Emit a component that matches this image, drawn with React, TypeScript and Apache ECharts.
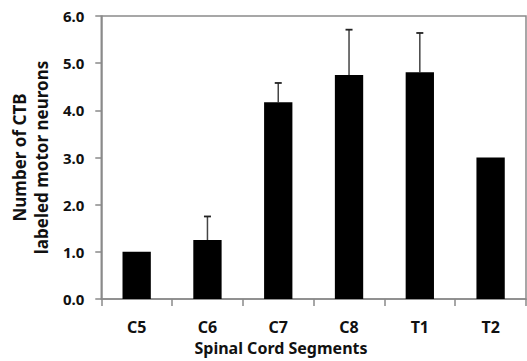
import React, { useEffect, useRef } from "react";
import * as echarts from "echarts";

const categories = ["C5", "C6", "C7", "C8", "T1", "T2"];
const means = [1.0, 1.25, 4.17, 4.75, 4.81, 3.0];
const errors = [0, 0.5, 0.41, 0.96, 0.83, 0];
const yTicks = [0, 1, 2, 3, 4, 5, 6];
const yTitle = "Number of CTB\nlabeled motor neurons";
const xTitle = "Spinal Cord Segments";

const FONT = "'Noto Sans', sans-serif";

export default function App() {
  const ref = useRef<HTMLDivElement>(null);
  useEffect(() => {
    if (!ref.current) return;
    const chart = echarts.init(ref.current, null, { renderer: "svg" });
    chart.setOption({
      animation: false,
      backgroundColor: "#ffffff",
      grid: {
        left: 99,
        right: 1,
        top: 16,
        bottom: 62,
        show: true,
        borderColor: "#8a8a8a",
        borderWidth: 1.5,
      },
      xAxis: {
        type: "category",
        data: categories,
        axisLine: { lineStyle: { color: "#8a8a8a", width: 1.5 } },
        axisTick: { show: true, length: 7, lineStyle: { color: "#8a8a8a", width: 1.5 } },
        axisLabel: {
          margin: 20,
          color: "#111",
          fontFamily: FONT,
          fontWeight: "bold",
          fontSize: 16,
        },
      },
      yAxis: {
        type: "value",
        min: yTicks[0],
        max: yTicks[yTicks.length - 1],
        interval: 1,
        name: yTitle,
        nameLocation: "middle",
        nameRotate: 90,
        nameGap: 49,
        nameTextStyle: {
          color: "#111",
          fontFamily: FONT,
          fontWeight: "bold",
          fontSize: 17,
          lineHeight: 22,
        },
        axisLine: { show: true, lineStyle: { color: "#8a8a8a", width: 1.5 } },
        axisTick: { show: true, length: 6, lineStyle: { color: "#8a8a8a", width: 1.5 } },
        splitLine: { show: false },
        axisLabel: {
          margin: 17,
          color: "#111",
          fontFamily: FONT,
          fontWeight: "bold",
          fontSize: 15,
          formatter: (v: number) => v.toFixed(1),
        },
      },
      graphic: [
        {
          type: "text",
          x: 281,
          y: 348,
          style: {
            text: xTitle,
            textAlign: "center",
            textVerticalAlign: "middle",
            fill: "#111",
            font: `bold 16px ${FONT}`,
          },
        },
      ],
      series: [
        {
          type: "custom",
          data: means.map((m, i) => [i, m, m + errors[i]]),
          z: 1,
          renderItem: (params: any, api: any) => {
            const i = api.value(0);
            const lo = api.coord([i, api.value(1)]);
            const hi = api.coord([i, api.value(2)]);
            if (api.value(2) <= api.value(1)) return { type: "group", children: [] };
            return {
              type: "group",
              children: [
                {
                  type: "line",
                  shape: { x1: lo[0], y1: lo[1], x2: hi[0], y2: hi[1] },
                  style: { stroke: "#444", lineWidth: 1.5 },
                },
                {
                  type: "line",
                  shape: { x1: hi[0] - 3.5, y1: hi[1], x2: hi[0] + 3.5, y2: hi[1] },
                  style: { stroke: "#222", lineWidth: 1.8 },
                },
              ],
            };
          },
        },
        {
          type: "bar",
          data: means,
          barWidth: "40%",
          z: 2,
          itemStyle: { color: "#000" },
        },
      ],
    });
    return () => chart.dispose();
  }, []);
  return <div ref={ref} style={{ width: 527, height: 361, position: "absolute", left: 0, top: 0 }} />;
}
